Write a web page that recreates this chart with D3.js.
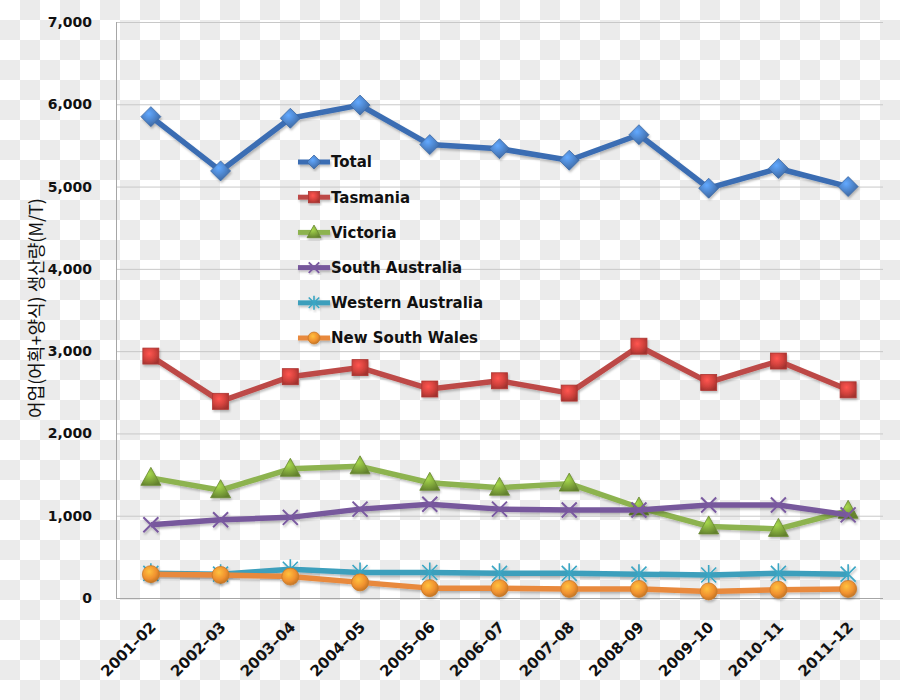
<!DOCTYPE html>
<html><head><meta charset="utf-8">
<script src="https://cdn.jsdelivr.net/npm/d3@7"></script>
<style>body{margin:0;} svg{display:block;}</style>
</head><body>
<svg id="chart" width="900" height="700"></svg>
<script>
const categories = ["2001–02","2002–03","2003–04","2004–05","2005–06","2006–07","2007–08","2008–09","2009–10","2010–11","2011–12"];
const seriesNames = ["Total","Tasmania","Victoria","South Australia","Western Australia","New South Wales"];
const totalValues = [5850,5190,5830,5990,5510,5460,5320,5630,4980,5220,5000];
const tasmaniaValues = [2940,2390,2690,2800,2540,2640,2490,3060,2620,2880,2530];
const victoriaValues = [1460,1310,1570,1600,1400,1340,1390,1100,870,840,1060];
const southAustraliaValues = [890,950,980,1080,1140,1080,1070,1070,1130,1130,1010];
const westernAustraliaValues = [300,290,350,310,310,300,300,290,280,300,290];
const newSouthWalesValues = [290,280,260,190,120,120,110,110,80,100,110];
const yTicks = [0,1000,2000,3000,4000,5000,6000,7000];
const yTitle = "어업(어획+양식) 생산량(M/T)";
const lineColors = ["#3b6db3","#bd4a47","#8db350","#77589c","#3c9fbc","#e8893d"];
const markerBase = ["#4a7fc4","#d0413c","#7ea43a","#7a5aa0","#3aa6c4","#f0912f"];
const markerTypes = ["diamond","square","triangle","x","star","circle"];

const allValues = [totalValues,tasmaniaValues,victoriaValues,southAustraliaValues,westernAustraliaValues,newSouthWalesValues];

const svg = d3.select("#chart");
const W = 900, H = 700;
const margin = {left:116, right:17, top:22, bottom:102};

// checkerboard background
const defs = svg.append("defs");
const pat = defs.append("pattern").attr("id","checker").attr("width",40).attr("height",40).attr("patternUnits","userSpaceOnUse");
pat.append("rect").attr("width",40).attr("height",40).attr("fill","#ffffff");
pat.append("rect").attr("x",20).attr("y",0).attr("width",20).attr("height",20).attr("fill","#ebebeb");
pat.append("rect").attr("x",0).attr("y",20).attr("width",20).attr("height",20).attr("fill","#ebebeb");
svg.append("rect").attr("width",W).attr("height",H).attr("fill","url(#checker)");

const filt = defs.append("filter").attr("id","shadow").attr("x","-20%").attr("y","-20%").attr("width","140%").attr("height","140%");
filt.append("feDropShadow").attr("dx",1).attr("dy",2).attr("stdDeviation",1.2).attr("flood-color","#000").attr("flood-opacity",0.25);

markerBase.forEach((c,i)=>{
  const g = defs.append("radialGradient").attr("id","mg"+i).attr("cx","40%").attr("cy","35%").attr("r","70%");
  g.append("stop").attr("offset","0%").attr("stop-color",d3.color(c).brighter(0.8));
  g.append("stop").attr("offset","60%").attr("stop-color",c);
  g.append("stop").attr("offset","100%").attr("stop-color",d3.color(c).darker(0.7));
});

const x = d3.scaleBand().domain(categories).range([margin.left, W-margin.right]);
const y = d3.scaleLinear().domain([0,7000]).range([H-margin.bottom, margin.top]);
const cx = d => x(d) + x.bandwidth()/2;

// gridlines
svg.append("g").selectAll("line").data(yTicks.filter(t=>t>0)).join("line")
  .attr("x1",margin.left).attr("x2",W-margin.right)
  .attr("y1",d=>y(d)+0.5).attr("y2",d=>y(d)+0.5)
  .attr("stroke","#c8c8c8").attr("stroke-width",1);

// axes
const yAxis = svg.append("g").attr("transform",`translate(${margin.left},0)`)
  .call(d3.axisLeft(y).tickValues(yTicks).tickFormat(d3.format(",")).tickSize(0).tickPadding(24));
yAxis.select(".domain").attr("stroke","#a6a6a6").attr("d",`M0.5,${y(7000)}V${y(0)+0.5}`);
yAxis.selectAll("text").attr("font-family","DejaVu Sans").attr("font-weight","bold").attr("font-size",14).attr("fill","#111");

const xAxis = svg.append("g").attr("transform",`translate(0,${H-margin.bottom})`)
  .call(d3.axisBottom(x).tickSize(0).tickPadding(0));
xAxis.select(".domain").attr("stroke","#a6a6a6").attr("d",`M${margin.left},0.5H${W-margin.right}`);
xAxis.selectAll("text")
  .attr("font-family","DejaVu Sans").attr("font-weight","bold").attr("font-size",15).attr("fill","#111")
  .attr("text-anchor","end").attr("dy",0)
  .attr("transform","translate(6,30) rotate(-45)");

// y title
svg.append("text").attr("transform",`translate(43,${308}) rotate(-90)`)
  .attr("text-anchor","middle").attr("font-family","Noto Sans CJK KR").attr("font-size",18).attr("fill","#111")
  .text(yTitle);

function drawMarker(g, type, i, size){
  const fill = `url(#mg${i})`;
  const s = size;
  if(type==="diamond"){
    g.append("path").attr("d",`M0,${-s}L${s},0L0,${s}L${-s},0Z`).attr("fill",fill).attr("stroke",d3.color(markerBase[i]).darker(0.5)).attr("stroke-width",0.8);
  } else if(type==="square"){
    const h = s*0.8;
    g.append("rect").attr("x",-h).attr("y",-h).attr("width",2*h).attr("height",2*h).attr("fill",fill).attr("stroke",d3.color(markerBase[i]).darker(0.5)).attr("stroke-width",0.8);
  } else if(type==="triangle"){
    g.append("path").attr("d",`M0,${-s*1.05}L${s},${s*0.75}L${-s},${s*0.75}Z`).attr("fill",fill).attr("stroke",d3.color(markerBase[i]).darker(0.5)).attr("stroke-width",0.8);
  } else if(type==="x"){
    const h = s*0.75;
    g.append("path").attr("d",`M${-h},${-h}L${h},${h}M${-h},${h}L${h},${-h}`).attr("stroke",markerBase[i]).attr("stroke-width",2);
  } else if(type==="star"){
    const h = s*0.75;
    g.append("path").attr("d",`M${-h},${-h}L${h},${h}M${-h},${h}L${h},${-h}M0,${-s}V${s}`).attr("stroke",markerBase[i]).attr("stroke-width",1.6);
  } else if(type==="circle"){
    g.append("circle").attr("r",s*0.85).attr("fill",fill).attr("stroke",d3.color(markerBase[i]).darker(0.5)).attr("stroke-width",0.8);
  }
}

const line = d3.line().x((d,j)=>cx(categories[j])).y(d=>y(d));

allValues.forEach((vals,i)=>{
  const g = svg.append("g").attr("filter","url(#shadow)");
  g.append("path").datum(vals).attr("d",line).attr("fill","none")
    .attr("stroke",lineColors[i]).attr("stroke-width",5.5).attr("stroke-linejoin","round");
  vals.forEach((v,j)=>{
    const mg = g.append("g").attr("transform",`translate(${cx(categories[j])},${y(v)})`);
    drawMarker(mg, markerTypes[i], i, 10);
  });
});

// legend
const legend = svg.append("g");
const legY0 = 162, legDY = 35.2;
seriesNames.forEach((name,i)=>{
  const ly = legY0 + i*legDY;
  const g = legend.append("g").attr("filter","url(#shadow)");
  g.append("line").attr("x1",298).attr("x2",330).attr("y1",ly).attr("y2",ly)
    .attr("stroke",lineColors[i]).attr("stroke-width",5);
  const mg = g.append("g").attr("transform",`translate(314,${ly})`);
  drawMarker(mg, markerTypes[i], i, 7);
  legend.append("text").attr("x",331).attr("y",ly).attr("dy","0.36em")
    .attr("font-family","DejaVu Sans").attr("font-weight","bold").attr("font-size",15).attr("fill","#111")
    .text(name);
});
</script>
</body></html>
